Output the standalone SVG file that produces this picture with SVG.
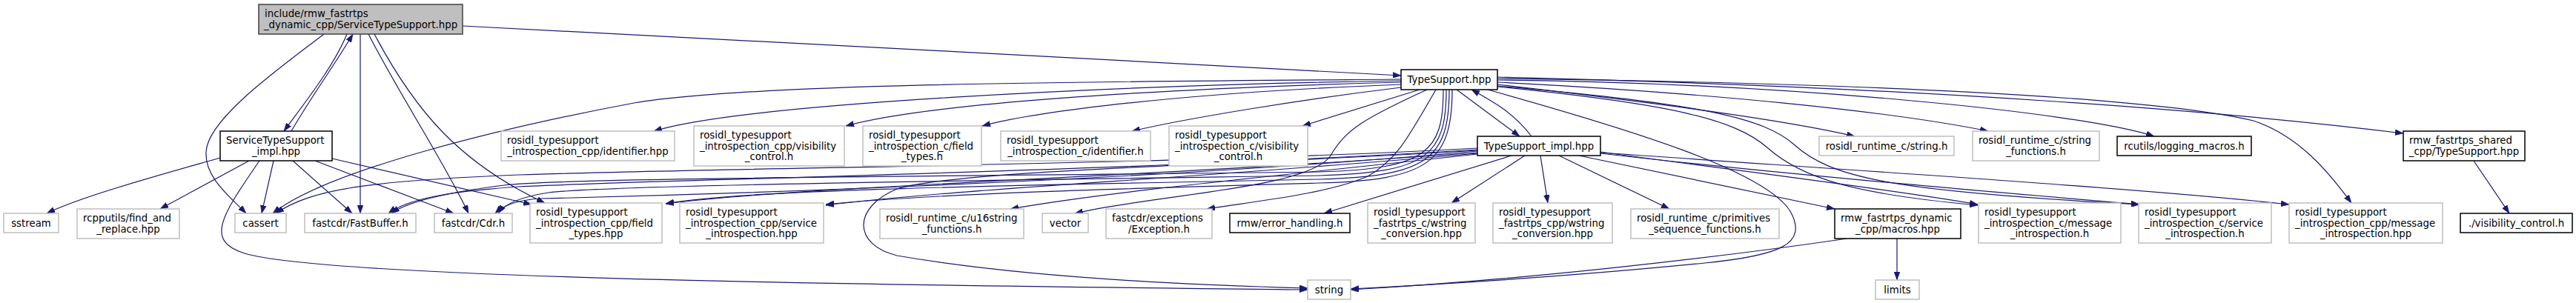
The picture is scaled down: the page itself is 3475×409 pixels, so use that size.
<svg xmlns="http://www.w3.org/2000/svg" width="3475" height="409" viewBox="0 0 3475 409">
<style>
.e path{fill:none;stroke:#191970;stroke-width:1.2;marker-end:url(#ah)}
.n rect{fill:#fff;stroke:#bfbfbf;stroke-width:1.5}
.d rect{fill:#fff;stroke:#000;stroke-width:1.5}
.m rect{fill:#bfbfbf;stroke:#404040;stroke-width:1.5}
text{font-family:"DejaVu Sans",sans-serif;font-size:13.33px;fill:#000}
.l{text-anchor:start}
.c{text-anchor:middle}
</style>
<defs>
<marker id="ah" markerUnits="userSpaceOnUse" viewBox="0 0 11 8" markerWidth="11" markerHeight="8" refX="11" refY="4" orient="auto">
<path d="M0,0 L11,4 L0,8 z" fill="#191970" stroke="#191970" stroke-width="0.5"/>
</marker>
</defs>
<rect width="3475" height="409" fill="#fff"/>
<g id="edges" class="e">
<path d="M624,35 C1000,55 1500,80 1890,102"/>
<path d="M468,46 C450,90 410,140 383,177"/>
<path d="M393,177 C420,130 450,90 476,46"/>
<path d="M437,46 C380,90 280,160 278,205 C276,240 310,265 332,288"/>
<path d="M486,46 L486,288"/>
<path d="M497,46 C540,130 600,220 632,288"/>
<path d="M505,46 C560,150 620,220 735,274"/>
<path d="M297,213 C220,235 110,265 63,288"/>
<path d="M336,217 L216,282"/>
<path d="M369,217 L353,288"/>
<path d="M395,217 L475,288"/>
<path d="M425,217 L612,288"/>
<path d="M448,214 L717,276"/>
<path d="M350,217 C300,290 275,325 330,342 C450,378 1300,386 1764,391"/>
<path d="M1890,107 C1500,110 1000,112 850,140 C680,172 440,230 368,288"/>
<path d="M1890,109 C1500,115 1000,140 882,177"/>
<path d="M1890,111 C1550,120 1250,140 1141,170"/>
<path d="M1890,114 C1600,125 1400,150 1325,170"/>
<path d="M1890,118 C1750,135 1600,160 1527,177"/>
<path d="M1915,121 L1757,170"/>
<path d="M1925,121 C1840,160 1815,175 1795,210 C1765,255 1560,262 1450,288"/>
<path d="M1937,121 C1900,185 1885,215 1845,238 C1790,262 1690,272 1628,282"/>
<path d="M1947,121 C1947,205 1925,228 1780,232 C1300,238 760,240 680,250 C600,260 550,272 528,288"/>
<path d="M1951,121 C1951,210 1925,233 1780,237 C1300,244 820,250 740,260 C700,266 680,276 672,288"/>
<path d="M1955,121 C1955,215 1925,238 1780,242 C1400,250 1000,255 898,275"/>
<path d="M1959,121 C1959,220 1925,243 1780,247 C1500,255 1250,262 1114,276"/>
<path d="M1965,121 L2050,184"/>
<path d="M2066,184 C2040,150 2010,135 1985,121"/>
<path d="M2020,114 C2200,135 2400,160 2502,184"/>
<path d="M2020,111 C2300,125 2550,150 2682,177"/>
<path d="M2020,108 C2400,112 2800,150 2906,184"/>
<path d="M2020,104 C2600,118 3000,150 3242,180"/>
<path d="M2020,106 C2500,112 2900,130 3040,163 C3100,183 3140,230 3172,274"/>
<path d="M2020,117 C2250,140 2340,160 2385,200 C2430,240 2500,262 2668,277"/>
<path d="M2020,116 C2300,140 2380,160 2420,195 C2470,240 2550,258 2886,276"/>
<path d="M2007,121 C2200,175 2380,230 2415,285 C2440,330 2400,345 2300,355 C2100,375 1900,386 1822,390"/>
<path d="M1993,200 C1600,222 1000,226 700,236 C500,244 420,255 372,288"/>
<path d="M1993,202 C1500,232 900,242 700,252 C610,258 550,268 524,288"/>
<path d="M1993,204 C1500,248 900,264 730,268 C695,270 678,278 668,288"/>
<path d="M1993,206 C1500,242 1100,250 898,275"/>
<path d="M1993,207 C1600,242 1300,254 1114,277"/>
<path d="M1993,208 C1700,240 1500,258 1363,282"/>
<path d="M1993,203 C1700,222 1300,228 1210,255 C1150,280 1150,330 1210,345 C1400,378 1650,386 1764,389"/>
<path d="M2039,210 L1786,288"/>
<path d="M2057,210 L1958,274"/>
<path d="M2078,210 L2088,274"/>
<path d="M2103,210 L2252,282"/>
<path d="M2130,210 L2475,282"/>
<path d="M2159,205 C2300,225 2550,255 2668,276"/>
<path d="M2159,207 C2400,235 2700,260 2886,276"/>
<path d="M2159,206 C2500,230 2900,255 3088,276"/>
<path d="M2492,322 C2300,350 2050,378 1822,391"/>
<path d="M2559,322 L2559,378"/>
<path d="M3337,217 L3385,288"/>
</g>
<g id="n_main" class="m"><rect x="349" y="6" width="275" height="40"/><text class="l" x="357" y="23.25">include/rmw_fastrtps</text><text class="c" x="486.5" y="37.75">_dynamic_cpp/ServiceTypeSupport.hpp</text></g>
<g id="n_sti" class="d"><rect x="297" y="177" width="151" height="40"/><text class="l" x="305" y="194.25">ServiceTypeSupport</text><text class="c" x="372.5" y="208.75">_impl.hpp</text></g>
<g id="n_ts" class="d"><rect x="1890" y="94" width="130" height="27"/><text class="c" x="1955" y="112">TypeSupport.hpp</text></g>
<g id="n_tsi" class="d"><rect x="1993" y="184" width="166" height="26"/><text class="c" x="2076" y="201.5">TypeSupport_impl.hpp</text></g>
<g id="n_sstream" class="n"><rect x="5" y="288" width="74" height="26"/><text class="c" x="42" y="305.5">sstream</text></g>
<g id="n_rcpputils" class="n"><rect x="104" y="282" width="138" height="40"/><text class="l" x="112" y="299.25">rcpputils/find_and</text><text class="c" x="173" y="313.75">_replace.hpp</text></g>
<g id="n_cassert" class="n"><rect x="317" y="288" width="69" height="26"/><text class="c" x="351.5" y="305.5">cassert</text></g>
<g id="n_fastbuffer" class="n"><rect x="411" y="288" width="150" height="26"/><text class="c" x="486" y="305.5">fastcdr/FastBuffer.h</text></g>
<g id="n_cdr" class="n"><rect x="586" y="288" width="105" height="26"/><text class="c" x="638.5" y="305.5">fastcdr/Cdr.h</text></g>
<g id="n_cpp_field" class="n"><rect x="715" y="274" width="178" height="54"/><text class="l" x="723" y="291">rosidl_typesupport</text><text class="l" x="723" y="305.5">_introspection_cpp/field</text><text class="c" x="804" y="320">_types.hpp</text></g>
<g id="n_cpp_ident" class="n"><rect x="676" y="177" width="234" height="40"/><text class="l" x="684" y="194.25">rosidl_typesupport</text><text class="c" x="793" y="208.75">_introspection_cpp/identifier.hpp</text></g>
<g id="n_cpp_vis" class="n"><rect x="936" y="170" width="203" height="54"/><text class="l" x="944" y="187">rosidl_typesupport</text><text class="l" x="944" y="201.5">_introspection_cpp/visibility</text><text class="c" x="1037.5" y="216">_control.h</text></g>
<g id="n_c_field" class="n"><rect x="1164" y="170" width="160" height="54"/><text class="l" x="1172" y="187">rosidl_typesupport</text><text class="l" x="1172" y="201.5">_introspection_c/field</text><text class="c" x="1244" y="216">_types.h</text></g>
<g id="n_c_ident" class="n"><rect x="1350" y="177" width="202" height="40"/><text class="l" x="1358" y="194.25">rosidl_typesupport</text><text class="c" x="1451" y="208.75">_introspection_c/identifier.h</text></g>
<g id="n_c_vis" class="n"><rect x="1577" y="170" width="187" height="54"/><text class="l" x="1585" y="187">rosidl_typesupport</text><text class="l" x="1585" y="201.5">_introspection_c/visibility</text><text class="c" x="1670.5" y="216">_control.h</text></g>
<g id="n_cpp_service" class="n"><rect x="917" y="274" width="194" height="54"/><text class="l" x="925" y="291">rosidl_typesupport</text><text class="l" x="925" y="305.5">_introspection_cpp/service</text><text class="c" x="1014" y="320">_introspection.hpp</text></g>
<g id="n_u16" class="n"><rect x="1187" y="282" width="194" height="40"/><text class="l" x="1195" y="299.25">rosidl_runtime_c/u16string</text><text class="c" x="1284" y="313.75">_functions.h</text></g>
<g id="n_vector" class="n"><rect x="1406" y="288" width="62" height="26"/><text class="c" x="1437" y="305.5">vector</text></g>
<g id="n_exception" class="n"><rect x="1492" y="282" width="143" height="40"/><text class="l" x="1500" y="299.25">fastcdr/exceptions</text><text class="c" x="1563.5" y="313.75">/Exception.h</text></g>
<g id="n_errh" class="d"><rect x="1659" y="288" width="162" height="26"/><text class="c" x="1740" y="305.5">rmw/error_handling.h</text></g>
<g id="n_fc_wstr" class="n"><rect x="1845" y="274" width="145" height="54"/><text class="l" x="1853" y="291">rosidl_typesupport</text><text class="l" x="1853" y="305.5">_fastrtps_c/wstring</text><text class="c" x="1917.5" y="320">_conversion.hpp</text></g>
<g id="n_fcpp_wstr" class="n"><rect x="2014" y="274" width="161" height="54"/><text class="l" x="2022" y="291">rosidl_typesupport</text><text class="l" x="2022" y="305.5">_fastrtps_cpp/wstring</text><text class="c" x="2094.5" y="320">_conversion.hpp</text></g>
<g id="n_prim" class="n"><rect x="2200" y="282" width="200" height="40"/><text class="l" x="2208" y="299.25">rosidl_runtime_c/primitives</text><text class="c" x="2300" y="313.75">_sequence_functions.h</text></g>
<g id="n_macros" class="d"><rect x="2475" y="282" width="170" height="40"/><text class="l" x="2483" y="299.25">rmw_fastrtps_dynamic</text><text class="c" x="2560" y="313.75">_cpp/macros.hpp</text></g>
<g id="n_c_msg" class="n"><rect x="2669" y="274" width="192" height="54"/><text class="l" x="2677" y="291">rosidl_typesupport</text><text class="l" x="2677" y="305.5">_introspection_c/message</text><text class="c" x="2765" y="320">_introspection.h</text></g>
<g id="n_c_srv" class="n"><rect x="2885" y="274" width="179" height="54"/><text class="l" x="2893" y="291">rosidl_typesupport</text><text class="l" x="2893" y="305.5">_introspection_c/service</text><text class="c" x="2974.5" y="320">_introspection.h</text></g>
<g id="n_cpp_msg" class="n"><rect x="3088" y="274" width="207" height="54"/><text class="l" x="3096" y="291">rosidl_typesupport</text><text class="l" x="3096" y="305.5">_introspection_cpp/message</text><text class="c" x="3191.5" y="320">_introspection.hpp</text></g>
<g id="n_vis" class="d"><rect x="3319" y="288" width="151" height="26"/><text class="c" x="3394.5" y="305.5">./visibility_control.h</text></g>
<g id="n_strh" class="n"><rect x="2454" y="184" width="182" height="26"/><text class="c" x="2545" y="201.5">rosidl_runtime_c/string.h</text></g>
<g id="n_strf" class="n"><rect x="2661" y="177" width="171" height="40"/><text class="l" x="2669" y="194.25">rosidl_runtime_c/string</text><text class="c" x="2746.5" y="208.75">_functions.h</text></g>
<g id="n_log" class="d"><rect x="2856" y="184" width="181" height="26"/><text class="c" x="2946.5" y="201.5">rcutils/logging_macros.h</text></g>
<g id="n_shared" class="d"><rect x="3242" y="177" width="164" height="40"/><text class="l" x="3250" y="194.25">rmw_fastrtps_shared</text><text class="c" x="3324" y="208.75">_cpp/TypeSupport.hpp</text></g>
<g id="n_string" class="n"><rect x="1764" y="378" width="58" height="26"/><text class="c" x="1793" y="395.5">string</text></g>
<g id="n_limits" class="n"><rect x="2530" y="378" width="59" height="26"/><text class="c" x="2559.5" y="395.5">limits</text></g>
</svg>
